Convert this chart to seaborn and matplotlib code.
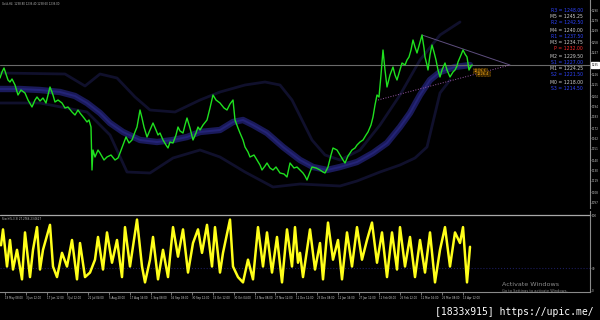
import numpy as np
import pandas as pd
import matplotlib
matplotlib.use("Agg")
import matplotlib.pyplot as plt
import seaborn as sns

# ---------------- data ----------------
price_bar = [0,2,4,6,8,10,12,15,18,21,25,28,32,35,37,40,43,46,50,53,55,58,62,65,68,72,75,78,80,84,87,89,91,92,93,95,98,100,104,107,111,115,118,120,123,126,129,132,135,137,140,142,144,147,150,153,156,158,160,163,166,168,170,173,176,178,180,183,185,187,190,193,196,198,200,203,207,210,213,216,220,224,227,230,233,235,238,240,243,245,248,250,254,257,260,262,265,267,270,273,276,280,284,287,290,294,297,300,303,305,307,310,312,316,320,323,325,328,331,333,337,340,343,345,348,352,355,357,360,363,366,368,371,373,375,377,379,381,383,385,387,390,393,395,397,400,402,405,407,409,411,413,415,417,420,422,424,425,427,428,430,432,434,436,438,440,442,445,447,450,453,455,457,458,461,463,465,467,469,471,472]
price_val = [1222,1228,1232,1226,1220,1218,1221,1215,1205,1210,1207,1200,1193,1200,1203,1199,1202,1197,1213,1205,1198,1200,1197,1192,1193,1188,1185,1190,1187,1182,1178,1180,1173,1130,1150,1143,1150,1147,1140,1143,1145,1140,1142,1147,1155,1163,1157,1160,1168,1173,1190,1182,1173,1163,1170,1177,1170,1165,1167,1160,1155,1152,1158,1157,1165,1173,1169,1167,1175,1182,1172,1160,1167,1173,1170,1175,1180,1192,1205,1200,1197,1192,1190,1196,1200,1180,1172,1167,1160,1153,1148,1143,1145,1140,1135,1130,1134,1137,1132,1130,1133,1127,1126,1123,1137,1132,1133,1130,1127,1124,1120,1128,1133,1132,1130,1128,1127,1133,1145,1152,1150,1145,1140,1137,1144,1150,1152,1155,1158,1160,1165,1168,1175,1183,1195,1205,1203,1225,1250,1230,1213,1225,1233,1225,1220,1230,1237,1235,1240,1243,1250,1260,1253,1247,1258,1265,1252,1243,1235,1230,1245,1255,1248,1240,1230,1223,1230,1237,1230,1223,1228,1230,1234,1238,1245,1250,1246,1243,1230,1234,1235]

ma_bar = [0,20,40,60,75,87,100,110,123,140,157,173,187,200,220,233,243,253,267,283,300,313,327,340,357,373,387,400,410,420,430,440,455,470]
ma_val = [1211,1211,1210,1208,1204,1197,1187,1177,1168,1160,1158,1160,1163,1168,1170,1178,1180,1175,1167,1153,1140,1133,1130,1133,1138,1147,1157,1173,1187,1205,1220,1228,1233,1235]

upper_bar = [0,65,85,100,117,135,150,175,200,220,245,265,280,292,302,312,325,340,360,380,400,420,440,460]
upper_val = [1227,1226,1214,1226,1222,1203,1190,1188,1200,1208,1215,1218,1215,1200,1180,1160,1145,1140,1150,1175,1205,1240,1265,1278]

lower_bar = [0,40,87,110,127,150,173,200,220,245,273,300,340,357,380,400,415,427,440,450]
lower_val = [1197,1197,1188,1165,1128,1127,1142,1150,1143,1128,1113,1116,1114,1119,1128,1135,1142,1153,1207,1220]

trend_a_bar = [378, 510]
trend_a_val = [1200, 1235]
trend_b_bar = [422, 510]
trend_b_val = [1265, 1235]

current_price = 1235.0

stoch_bar = [1,3,7,10,13,17,22,25,30,33,37,40,43,50,53,57,62,67,72,77,80,85,90,95,98,103,107,112,117,122,125,130,137,142,145,150,153,158,163,168,173,178,183,188,193,198,202,207,212,215,220,223,230,233,238,243,248,253,258,263,267,272,277,282,287,292,295,298,300,303,310,315,320,323,328,333,338,342,347,352,357,362,367,372,377,382,387,392,397,400,405,410,415,420,425,430,435,440,445,450,455,460,463,467,470]
stoch_val = [60,81,32,67,28,54,15,77,18,54,84,28,54,87,32,18,50,32,67,15,63,18,24,41,71,28,77,37,67,18,84,32,94,32,11,41,71,15,54,18,84,45,81,24,63,81,50,87,32,84,24,50,94,32,18,11,41,15,84,32,77,24,71,11,81,32,84,37,50,18,81,28,63,15,90,41,67,15,77,32,84,41,67,90,37,77,18,77,28,84,32,71,18,67,24,77,11,54,84,32,77,63,84,11,58]

date_labels = ["19 May 08:00","3 Jun 12:00","17 Jun 12:00","3 Jul 12:00","22 Jul 04:00","5 Aug 20:00","17 Aug 16:00","1 Sep 08:00","16 Sep 08:00","30 Sep 12:00","15 Oct 12:00","30 Oct 04:00","13 Nov 08:00","27 Nov 12:00","11 Dec 12:00","23 Dec 08:00","12 Jan 16:00","27 Jan 12:00","11 Feb 08:00","25 Feb 12:00","11 Mar 16:00","26 Mar 08:00","13 Apr 12:00"]
date_bars = [5,26,47,67,88,109,130,151,171,192,213,234,255,275,296,317,338,359,379,400,421,442,463]

price_ticks = [1290,1279,1269,1258,1247,1236,1226,1215,1204,1194,1183,1172,1162,1151,1140,1130,1119,1108,1097]

pivot_names = ["R3","M5","R2","M4","R1","M3","P","M2","S1","M1","S2","M0","S3"]
pivot_values = [1248.00,1245.25,1242.50,1240.00,1237.50,1234.75,1232.00,1229.50,1227.00,1224.25,1221.50,1218.00,1214.50]

tag_values = [1229.3, 1226.4]

# ---------------- style ----------------
sns.set_theme(style="dark")
plt.rcParams['font.family'] = ['DejaVu Sans']

W, H = 600, 320
AX_R = 590
fig = plt.figure(figsize=(6, 3.2), dpi=100, facecolor='black')
ax = fig.add_axes([0, (H - 208) / H, AX_R / W, 208 / H])
axs = fig.add_axes([0, (H - 292) / H, AX_R / W, 81 / H])

for a in (ax, axs):
    a.set_facecolor('black')
    a.grid(False)
    for s in a.spines.values():
        s.set_visible(False)
    a.spines['right'].set_visible(True)
    a.spines['right'].set_color('#8a8a8a')
    a.spines['right'].set_linewidth(0.8)
    a.set_xlim(0, AX_R)
axs.spines['bottom'].set_visible(True)
axs.spines['bottom'].set_color('#8a8a8a')
axs.spines['bottom'].set_linewidth(0.8)

# ---------------- main panel ----------------
ax.set_ylim(1092, 1300)
sns.lineplot(x=upper_bar, y=upper_val, ax=ax, color='#10102c', linewidth=2.0, sort=False, estimator=None)
sns.lineplot(x=lower_bar, y=lower_val, ax=ax, color='#10102c', linewidth=2.0, sort=False, estimator=None)
sns.lineplot(x=ma_bar, y=ma_val, ax=ax, color='#1a1a5a', linewidth=4.6, sort=False, estimator=None)
sns.lineplot(x=ma_bar, y=ma_val, ax=ax, color='#242478', linewidth=1.4, sort=False, estimator=None)
ax.axhline(current_price, color='#6a6a6a', linewidth=0.8)
sns.lineplot(x=trend_a_bar, y=trend_a_val, ax=ax, color='#9a5aa8', linewidth=0.7, linestyle=':', sort=False, estimator=None)
sns.lineplot(x=trend_b_bar, y=trend_b_val, ax=ax, color='#5e4e7e', linewidth=0.7, sort=False, estimator=None)
sns.lineplot(x=price_bar, y=price_val, ax=ax, color='#1fe01f', linewidth=1.0, sort=False, estimator=None)

ax.yaxis.tick_right()
ax.set_yticks(price_ticks)
ax.set_yticklabels([f"{v}" for v in price_ticks])
ax.tick_params(axis='y', length=0.8, width=0.5, color='#8a8a8a', labelsize=2.0,
               labelcolor='#c8c8c8', pad=0.3, right=True, left=False)
ax.set_xticks([])
ax.set_xlabel('')
ax.set_ylabel('')

# current price label box
ax.annotate(f"{current_price:.0f}", xy=(1.0, current_price), xycoords=('axes fraction', 'data'),
            xytext=(1.0, 0), textcoords='offset points', fontsize=2.0, color='black',
            va='center', ha='left', annotation_clip=False,
            bbox=dict(boxstyle='square,pad=0.25', fc='white', ec='white'))

# orange tags
for i, v in enumerate(tag_values):
    ax.text(474 + i * 3, v, f"{v:.1f}", fontsize=2.6, color='#ffae1a', va='center', ha='left',
            bbox=dict(boxstyle='square,pad=0.15', fc='#3a2600', ec='#d08a00', lw=0.4, ls=':'))

# pivot text list
pivot_rows = [10, 17, 23, 30, 36, 42, 49, 56, 62, 68, 75, 82, 88]
for name, val, py in zip(pivot_names, pivot_values, pivot_rows):
    if name == 'P':
        col = '#ff2a2a'
    elif name.startswith('M'):
        col = '#d0d0d0'
    else:
        col = '#2f44ff'
    fig.text(583 / W, 1 - py / H, f"{name} = {val:.2f}", fontsize=3.3, color=col,
             ha='right', va='center')

fig.text(2 / W, 1 - 4 / H, "Gold,H4  1238.80 1239.40 1238.60 1239.00", fontsize=1.9,
         color='#b8b8b8', ha='left', va='center')

# ---------------- stochastic panel ----------------
axs.set_ylim(-1.7, 105.3)
axs.axhline(100, color='#a8a8a8', linewidth=0.9)
axs.axhline(30, color='#1c1c5c', linewidth=0.8, linestyle=':')
sns.lineplot(x=stoch_bar, y=stoch_val, ax=axs, color='#ffff1a', linewidth=1.8, sort=False, estimator=None)
axs.yaxis.tick_right()
axs.set_yticks([100, 30, 0])
axs.set_yticklabels(["100", "30", "0"])
axs.tick_params(axis='y', length=0.8, width=0.5, color='#8a8a8a', labelsize=2.0,
                labelcolor='#c8c8c8', pad=0.3, right=True, left=False)
axs.set_xticks(date_bars)
axs.set_xticklabels(date_labels)
axs.tick_params(axis='x', length=2, width=0.5, color='#a0a0a0', labelsize=1.9,
                labelcolor='#d0d0d0', pad=0.6, bottom=True, direction='out')
for lbl in axs.get_xticklabels():
    lbl.set_horizontalalignment('left')
axs.set_xlabel('')
axs.set_ylabel('')

fig.text(2 / W, 1 - 219 / H, "Stoch(5,3,3) 27.2766 23.0627", fontsize=1.9, color='#c8c8c8',
         ha='left', va='center')

fig.text(502 / W, 1 - 285 / H, "Activate Windows", fontsize=4.6, color='#8c8c8c', ha='left', va='center')
fig.text(502 / W, 1 - 291 / H, "Go to Settings to activate Windows.", fontsize=2.6, color='#8c8c8c',
         ha='left', va='center')

fig.text(0.99, 0.008, "[1833x915] https://upic.me/", fontsize=7.0, color='white',
         family='DejaVu Sans Mono', ha='right', va='bottom')

fig.savefig("out.png", dpi=100, facecolor='black')
